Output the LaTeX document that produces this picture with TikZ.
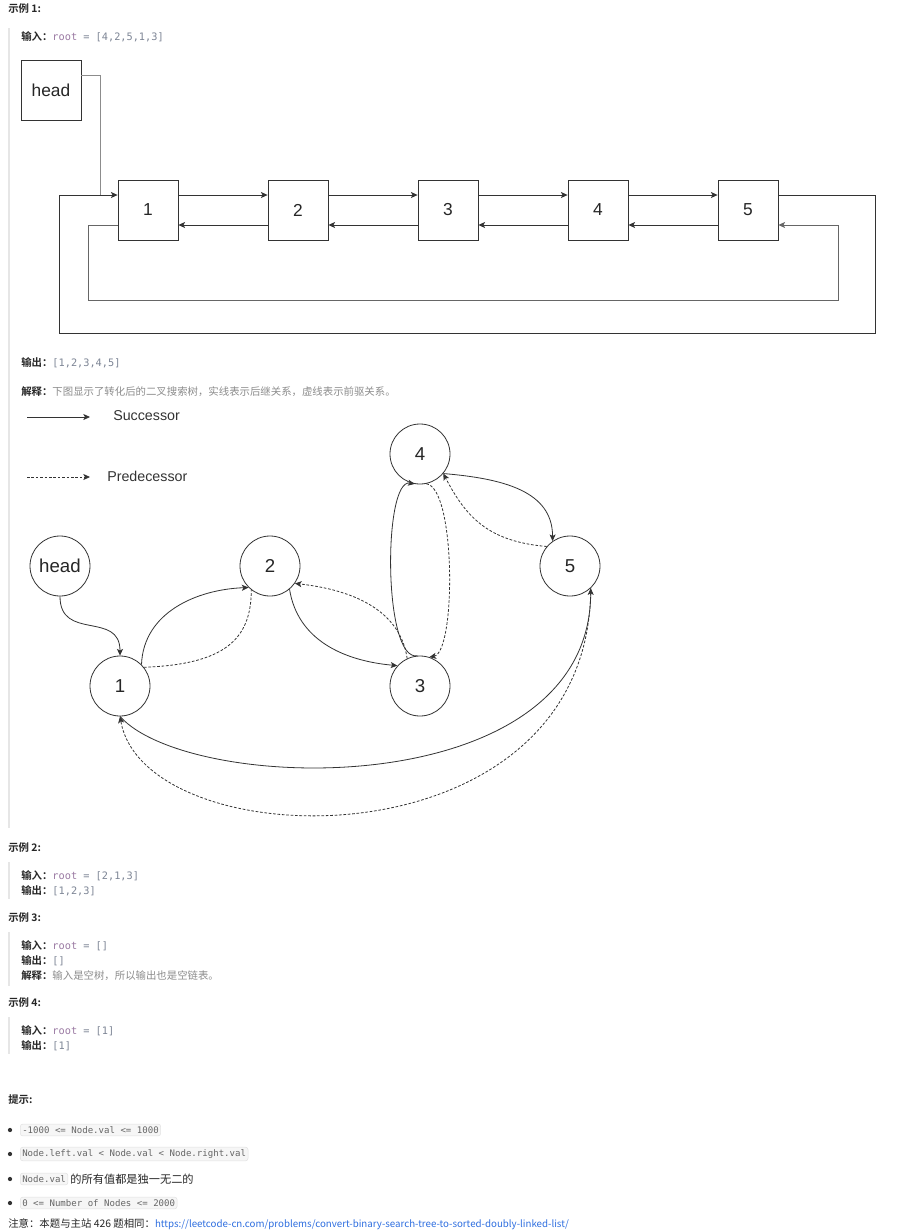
\documentclass[tikz,border=0pt]{standalone}
\usepackage{fontspec}
\setmainfont{Liberation Sans}
\newfontfamily\cjk{Noto Sans CJK SC}[BoldFont={Noto Sans CJK SC Bold}]
\newfontfamily\mono{DejaVu Sans Mono}
\usetikzlibrary{arrows.meta,positioning}
\definecolor{txtgray}{HTML}{8C8C8C}
\definecolor{codepurple}{HTML}{9B7AA3}
\definecolor{codegray}{HTML}{7D8595}
\definecolor{barcol}{HTML}{E6E6E6}
\definecolor{linkblue}{HTML}{2F6FE0}
\definecolor{codebg}{HTML}{F6F6F6}
\definecolor{codeframe}{HTML}{E2E2E2}
\definecolor{linecol}{HTML}{333333}
\newcommand{\codefont}{\mono\fontsize{7.7}{9}\selectfont}
\newcommand{\inp}[1]{\textbf{输入：}{\codefont\textcolor{codepurple}{root} \textcolor{codegray}{= #1}}}
\newcommand{\outp}[1]{\textbf{输出：}{\codefont\textcolor{codegray}{#1}}}

\begin{document}
\begin{tikzpicture}[x=0.75pt,y=-0.75pt,
  txt/.style={anchor=west,inner sep=0pt,font=\cjk\fontsize{7.8}{9}\selectfont,text=black!85},
  hdr/.style={txt,font=\cjk\bfseries\fontsize{7.8}{9}\selectfont},
  box/.style={draw=linecol,line width=0.6pt,minimum size=45pt,inner sep=0pt,font=\fontsize{13}{15}\selectfont,text=black!85},
  bst/.style={draw=linecol,line width=0.6pt,circle,minimum size=45pt,inner sep=0pt,font=\fontsize{14}{16}\selectfont,text=black!85},
  lnk/.style={draw=linecol,line width=0.6pt,-{Stealth[length=5pt,width=4.5pt,inset=1.2pt]}},
  succ/.style={lnk},
  pred/.style={lnk,dash pattern=on 2pt off 1.3pt},
  legend/.style={anchor=west,inner sep=0pt,font=\fontsize{10.7}{12}\selectfont,text=black!80},
  code/.style={anchor=west,inner xsep=1.5pt,inner ysep=1.8pt,fill=codebg,draw=codeframe,rounded corners=2pt,line width=0.4pt,font=\mono\fontsize{6.8}{8}\selectfont,text=black!60},
  bar/.style={draw=barcol,line width=1.5pt}]
  \fill[white] (0,0) rectangle (900,1232);
  \useasboundingbox (0,0) rectangle (900,1232);

  %example 1
  \node[hdr] (ex1) at (8,9) {示例 1:};
  \draw[bar] (9,28) -- (9,828);
  \node[txt] (in1) at (21,37) {\inp{[4,2,5,1,3]}};

  %list with boxes
  \node[box] (hb) at (51,90) {head};
  \foreach \i/\x in {1/148,2/298,3/448,4/598,5/748}
    \node[box] (b\i) at (\x,210) {\i};
  \foreach \i/\j in {1/2,2/3,3/4,4/5} {
    \draw[lnk] ([yshift=11.25pt]b\i.east) -- ([yshift=11.25pt]b\j.west);
    \draw[lnk] ([yshift=-11.25pt]b\j.west) -- ([yshift=-11.25pt]b\i.east);
  }
  \coordinate (outR) at (875,333);
  \coordinate (outL) at (59,195);
  \coordinate (innL) at (88,300);
  \coordinate (innR) at (838,225);
  \draw[lnk] ([yshift=11.25pt]b5.east) -| (outR) -| (outL) -- ([yshift=11.25pt]b1.west);
  \draw[lnk,draw=black!60] ([yshift=-11.25pt]b1.west) -| (innL) -| (innR) -- ([yshift=-11.25pt]b5.east);
  \draw[draw=black!45,line width=0.6pt] ([yshift=11.25pt]hb.east) -| (100,195);

  \node[txt] (out1) at (21,363) {\outp{[1,2,3,4,5]}};
  \node[txt] (expl1) at (21,392) {\textbf{解释：}\textcolor{txtgray}{下图显示了转化后的二叉搜索树，实线表示后继关系，虚线表示前驱关系。}};

  %legend
  \coordinate (sA) at (27,417);
  \coordinate (sB) at (90,417);
  \coordinate (pA) at (27,477);
  \coordinate (pB) at (90,477);
  \draw[succ] (sA) -- (sB);
  \draw[pred] (pA) -- (pB);
  \node[legend] (sTxt) at (113,416) {Successor};
  \node[legend] (pTxt) at (107,476) {Predecessor};

  %tree nodes
  \node[bst] (head) at (60,566) {head};
  \node[bst] (n1) at (120,686) {1};
  \node[bst] (n2) at (270,566) {2};
  \node[bst] (n3) at (420,686) {3};
  \node[bst] (n4) at (420,454) {4};
  \node[bst] (n5) at (570,566) {5};

  \draw[succ] (head.south) .. controls +(0,45) and +(0,-45) .. (n1.north);
  \draw[succ] (n1.45) .. controls +(2,-52) and +(-52,2) .. (n2.225);
  \draw[pred,-] (n1.38) .. controls +(80,-3) and +(0,50) .. (n2.232);
  \draw[succ] (n2.-50) .. controls +(8,50) and +(-55,-5) .. (n3.138);
  \draw[pred] (n3.115) .. controls +(-8,-55) and +(45,5) .. (n2.-35);
  \draw[succ] (n3.95) .. controls (383,662) and (383,478) .. (n4.260);
  \draw[pred] (n4.-78) .. controls (456,488) and (456,652) .. (n3.72);
  \draw[succ] (n4.-40) .. controls +(60,5) and +(0,-50) .. (n5.125);
  \draw[pred] (n5.140) .. controls +(-60,-5) and +(22,42) .. (n4.-40);
  \draw[succ] (n1.south) .. controls (190,795) and (590,805) .. (n5.-47);
  \draw[pred] (n5.-47) .. controls (590,870) and (145,860) .. (n1.south);

  %example 2
  \node[hdr] (ex2) at (8,848) {示例 2:};
  \draw[bar] (9,862) -- (9,899);
  \node[txt] (in2) at (21,876) {\inp{[2,1,3]}};
  \node[txt] (out2) at (21,891) {\outp{[1,2,3]}};

  %example 3
  \node[hdr] (ex3) at (8,918) {示例 3:};
  \draw[bar] (9,932) -- (9,986);
  \node[txt] (in3) at (21,946) {\inp{[]}};
  \node[txt] (out3) at (21,961) {\outp{[]}};
  \node[txt] (expl3) at (21,976) {\textbf{解释：}\textcolor{txtgray}{输入是空树，所以输出也是空链表。}};

  %example 4
  \node[hdr] (ex4) at (8,1003) {示例 4:};
  \draw[bar] (9,1017) -- (9,1054);
  \node[txt] (in4) at (21,1031) {\inp{[1]}};
  \node[txt] (out4) at (21,1046) {\outp{[1]}};

  %hints
  \node[hdr] (hint) at (8,1100) {提示:};
  \foreach \y in {1130,1154,1179,1203}
    \fill[black!80] (10,\y) circle[radius=1.6pt];
  \node[code] (h1) at (20,1130) {-1000 <= Node.val <= 1000};
  \node[code] (h2) at (20,1154) {Node.left.val < Node.val < Node.right.val};
  \node[code] (h3) at (20,1179) {Node.val};
  \node[txt,right=1.5pt of h3,font=\cjk\fontsize{8.4}{10}\selectfont] (h3b) {的所有值都是独一无二的};
  \node[code] (h4) at (20,1203) {0 <= Number of Nodes <= 2000};
  \node[txt] (note) at (8,1224) {注意：本题与主站 426 题相同：\textcolor{linkblue}{\fontsize{7.3}{9}\selectfont https://leetcode-cn.com/problems/convert-binary-search-tree-to-sorted-doubly-linked-list/}};
\end{tikzpicture}
\end{document}
